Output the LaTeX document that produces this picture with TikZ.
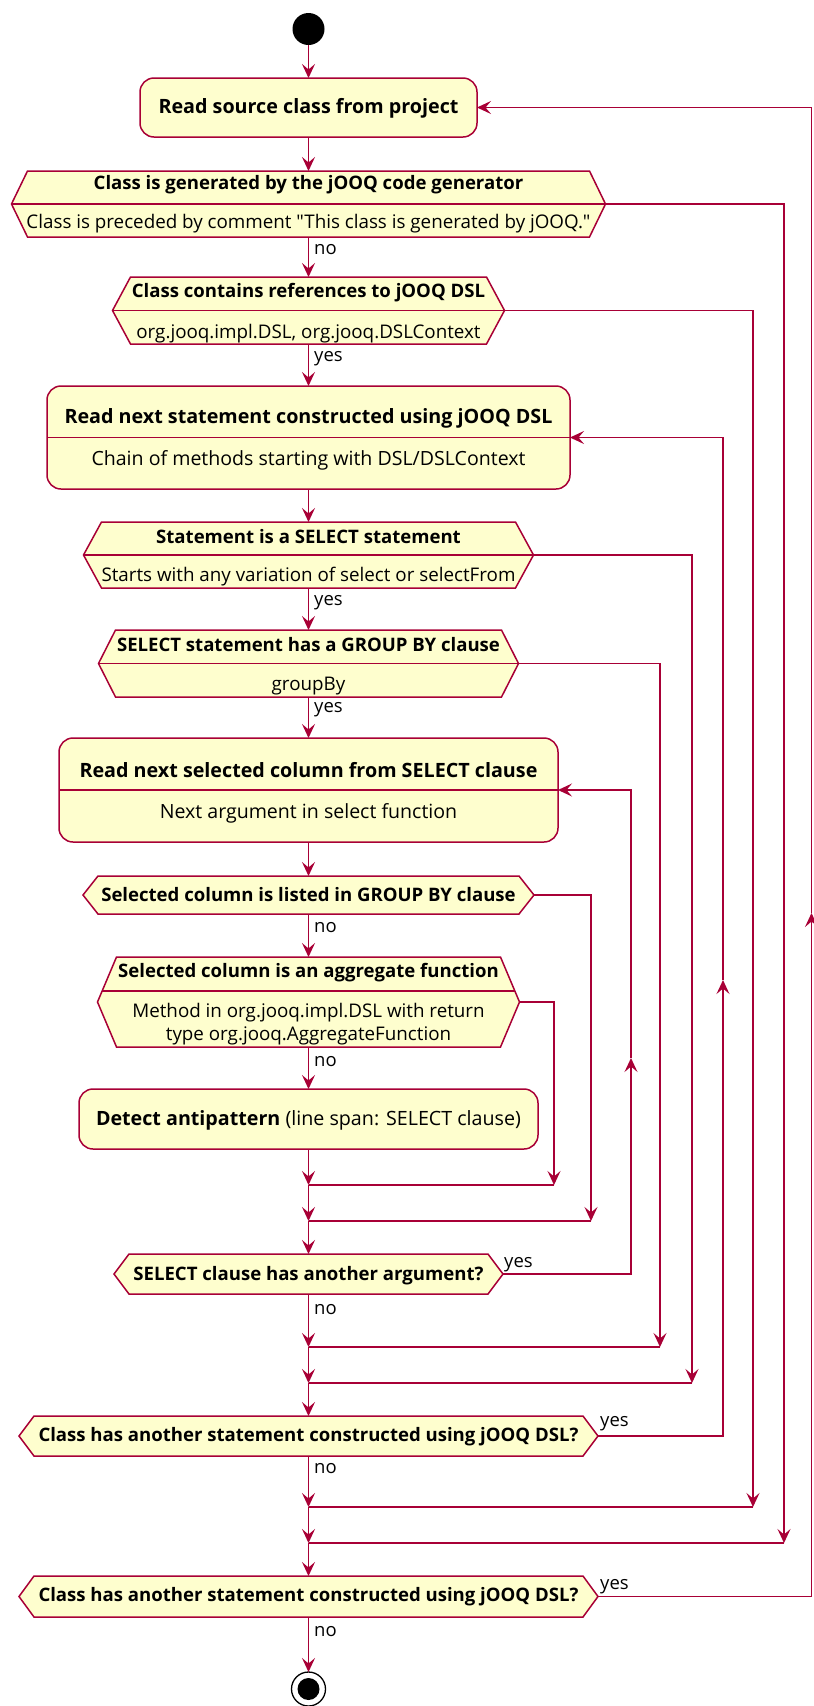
\documentclass[tikz,border=0pt]{standalone}
\usepackage{fontspec}
\setmainfont{Open Sans}[Ligatures=TeXOff]
\usetikzlibrary{arrows.meta,calc}

\definecolor{umlline}{HTML}{A80036}
\definecolor{umlfill}{HTML}{FEFECE}

\newlength\fitlen
% font size (pt) at which #3 is #2 pt wide
\newcommand\fitsize[3]{%
  \settowidth\fitlen{\fontsize{10pt}{12pt}\selectfont #3}%
  \pgfmathsetmacro#1{10*#2/\fitlen}}
\newcommand\sized[1]{\fontsize{#1pt}{#1pt}\selectfont}

% decision hexagon drawn round the frame node #1, tips set in by #2 pt
\newcommand\hexoutline[2]{%
  \filldraw[shapeline] (#1.west) -- ([xshift=#2pt]#1.north west)
    -- ([xshift=-#2pt]#1.north east) -- (#1.east)
    -- ([xshift=-#2pt]#1.south east) -- ([xshift=#2pt]#1.south west) -- cycle;}

\tikzset{
  shapeline/.style={draw=umlline, fill=umlfill, line width=1.5pt, line join=miter},
  divider/.style={draw=umlline, line width=1.2pt},
  actbox/.style={draw=umlline, fill=umlfill, line width=1.5pt, rounded corners=14pt,
    inner sep=0pt, outer sep=0pt},
  hexframe/.style={inner sep=0pt, outer sep=0pt},
  btitle/.style={font=\sized{\szBT}\bfseries, inner sep=0pt},
  bsub/.style={font=\sized{\szBS}, inner sep=0pt},
  dtitle/.style={font=\sized{\szDT}\bfseries, inner sep=0pt},
  dsub/.style={font=\sized{\szDS}, inner sep=0pt},
  lbl/.style={font=\sized{\szL}, anchor=west, inner sep=0pt},
  conn/.style={draw=umlline, line width=1.4pt},
  arr/.style={conn, -{Stealth[length=14pt, width=13pt, inset=5.5pt]}},
}

\begin{document}
\fitsize\szBT{488}{\bfseries Read next statement constructed using jOOQ DSL}%
\fitsize\szBS{434}{Chain of methods starting with DSL/DSLContext}%
\fitsize\szDT{540}{\bfseries Class has another statement constructed using jOOQ DSL?}%
\fitsize\szDS{564}{Class is preceded by comment "This class is generated by jOOQ."}%
\fitsize\szE{425}{\textbf{Detect antipattern} (line span: SELECT clause)}%
\fitsize\szL{28.5}{yes}%
\begin{tikzpicture}[x=1pt, y=-1pt]
\useasboundingbox (0,0) rectangle (814,1706);

% ---- start / stop
\node[circle, fill=black, minimum size=32pt, inner sep=0pt, outer sep=0pt] (start) at (308.5,29) {};
\node[circle, draw=black, fill=white, line width=1.3pt, minimum size=34pt, inner sep=0pt, outer sep=0pt] (stop) at (308.5,1689) {};
\node[circle, fill=black, minimum size=22pt, inner sep=0pt] (stopdot) at (stop) {};

% ---- activities
\node[actbox, minimum width=337pt, minimum height=59pt] (A) at (308.5,107.5) {};
\node[actbox, minimum width=523pt, minimum height=103pt] (B) at (308.5,437.5) {};
\draw[divider] (B.west) -- (B.east);
\node[actbox, minimum width=499pt, minimum height=104pt] (C) at (308.5,790) {};
\draw[divider] (C.west) -- (C.east);
\node[actbox, minimum width=459pt, minimum height=60pt] (E) at (308.5,1119) {};

% ---- decisions
\node[hexframe, minimum width=594pt, minimum height=66pt] (D1) at (308.5,204) {};
\hexoutline{D1}{16}
\draw[divider] (D1.west) -- (D1.east);
\node[hexframe, minimum width=392pt, minimum height=67pt] (D2) at (308.5,310.5) {};
\hexoutline{D2}{18}
\draw[divider] (D2.west) -- (D2.east);
\node[hexframe, minimum width=450pt, minimum height=66pt] (D3) at (308.5,555) {};
\hexoutline{D3}{18}
\draw[divider] (D3.west) -- (D3.east);
\node[hexframe, minimum width=420pt, minimum height=67pt] (D4) at (308.5,663.5) {};
\hexoutline{D4}{17}
\draw[divider] (D4.west) -- (D4.east);
\node[hexframe, minimum width=451pt, minimum height=38pt] (D5) at (308.5,895) {};
\hexoutline{D5}{15}
\node[hexframe, minimum width=422pt, minimum height=90pt] (D6) at (308.5,1002) {};
\hexoutline{D6}{19}
\draw[divider] ($(D6.west)+(4.6,-11)$) -- ($(D6.east)+(-4.6,-11)$);
\node[hexframe, minimum width=389pt, minimum height=40pt] (D7) at (308.5,1274) {};
\hexoutline{D7}{15}
\node[hexframe, minimum width=579pt, minimum height=40pt] (D8) at (308.5,1436) {};
\hexoutline{D8}{15}
\node[hexframe, minimum width=579pt, minimum height=41pt] (D9) at (308.5,1596.5) {};
\hexoutline{D9}{15}

% ---- texts
\node[btitle] (At) at (308.5,108) {Read source class from project};
\node[dtitle] (D1t) at (308.5,185) {Class is generated by the jOOQ code generator};
\node[dsub] (D1s) at (308.5,224) {Class is preceded by comment "This class is generated by jOOQ."};
\node[dtitle] (D2t) at (308.5,293) {Class contains references to jOOQ DSL};
\node[dsub] (D2s) at (308.5,334) {org.jooq.impl.DSL, org.jooq.DSLContext};
\node[btitle] (Bt) at (308.5,418) {Read next statement constructed using jOOQ DSL};
\node[bsub] (Bs) at (308.5,460) {Chain of methods starting with DSL/DSLContext};
\node[dtitle] (D3t) at (308.5,537) {Statement is a SELECT statement};
\node[dsub] (D3s) at (308.5,577) {Starts with any variation of select or selectFrom};
\node[dtitle] (D4t) at (308.5,645) {SELECT statement has a GROUP BY clause};
\node[dsub] (D4s) at (308.5,686) {groupBy};
\node[btitle] (Ct) at (308.5,770) {Read next selected column from SELECT clause};
\node[bsub] (Cs) at (308.5,813) {Next argument in select function};
\node[dtitle] (D5t) at (308.5,895) {Selected column is listed in GROUP BY clause};
\node[dtitle] (D6t) at (308.5,973) {Selected column is an aggregate function};
\node[inner sep=0pt, align=center, font=\fontsize{\szDS pt}{23pt}\selectfont] (D6s) at (308.5,1024.5)
  {Method in org.jooq.impl.DSL with return\\type org.jooq.AggregateFunction};
\node[inner sep=0pt, font=\sized{\szE}] (Et) at (308.5,1120)
  {\textbf{Detect antipattern} (line span: SELECT clause)};
\node[dtitle] (D7t) at (308.5,1276) {SELECT clause has another argument?};
\node[dtitle] (D8t) at (308.5,1437) {Class has another statement constructed using jOOQ DSL?};
\node[dtitle] (D9t) at (308.5,1597) {Class has another statement constructed using jOOQ DSL?};

% ---- junction points
\coordinate (m1) at (308.5,1185);  \coordinate (m1r) at (554,1185);
\coordinate (m2) at (308.5,1221);  \coordinate (m2r) at (591,1221);
\coordinate (m3) at (308.5,1347);  \coordinate (m3r) at (660,1347);
\coordinate (m4) at (308.5,1383);  \coordinate (m4r) at (692,1383);
\coordinate (m5) at (308.5,1507);  \coordinate (m5r) at (753,1507);
\coordinate (m6) at (308.5,1543);  \coordinate (m6r) at (784,1543);
\coordinate (L7) at (631,1058);
\coordinate (L8) at (723,980);
\coordinate (L9) at (811.5,913);

% ---- main flow
\draw[arr] (start.south) -- (A.north);
\draw[arr] (A.south) -- (D1.north);
\draw[arr] (D1.south) -- (D2.north);
\draw[arr] (D2.south) -- (B.north);
\draw[arr] (B.south) -- (D3.north);
\draw[arr] (D3.south) -- (D4.north);
\draw[arr] (D4.south) -- (C.north);
\draw[arr] (C.south) -- (D5.north);
\draw[arr] (D5.south) -- (D6.north);
\draw[arr] (D6.south) -- (E.north);
\draw[arr] (E.south) -- (m1);
\draw[arr] (m1) -- (m2);
\draw[arr] (m2) -- (D7.north);
\draw[arr] (D7.south) -- (m3);
\draw[arr] (m3) -- (m4);
\draw[arr] (m4) -- (D8.north);
\draw[arr] (D8.south) -- (m5);
\draw[arr] (m5) -- (m6);
\draw[arr] (m6) -- (D9.north);
\draw[arr] (D9.south) -- (stop.north);

% ---- branches that skip ahead
\draw[arr] (D6.east) -| (m1r);  \draw[conn] (m1r) -- (m1);
\draw[arr] (D5.east) -| (m2r);  \draw[conn] (m2r) -- (m2);
\draw[arr] (D4.east) -| (m3r);  \draw[conn] (m3r) -- (m3);
\draw[arr] (D3.east) -| (m4r);  \draw[conn] (m4r) -- (m4);
\draw[arr] (D2.east) -| (m5r);  \draw[conn] (m5r) -- (m5);
\draw[arr] (D1.east) -| (m6r);  \draw[conn] (m6r) -- (m6);

% ---- loops back
\draw[arr] (D7.east) -| (L7);  \draw[arr] (L7) |- (C.east);
\draw[arr] (D8.east) -| (L8);  \draw[arr] (L8) |- (B.east);
\draw[arr] (D9.east) -| (L9);  \draw[arr] (L9) |- (A.east);

% ---- guard labels
\node[lbl] (l1) at (314,250) {no};
\node[lbl] (l2) at (314,359) {yes};
\node[lbl] (l3) at (314,603) {yes};
\node[lbl] (l4) at (314,710) {yes};
\node[lbl] (l5) at (314,928) {no};
\node[lbl] (l6) at (314,1062) {no};
\node[lbl] (l7) at (314,1310) {no};
\node[lbl] (l8) at (314,1469) {no};
\node[lbl] (l9) at (314,1632) {no};
\node[lbl] (y7) at (504,1265) {yes};
\node[lbl] (y8) at (600,1424) {yes};
\node[lbl] (y9) at (600,1587) {yes};
\end{tikzpicture}
\end{document}
